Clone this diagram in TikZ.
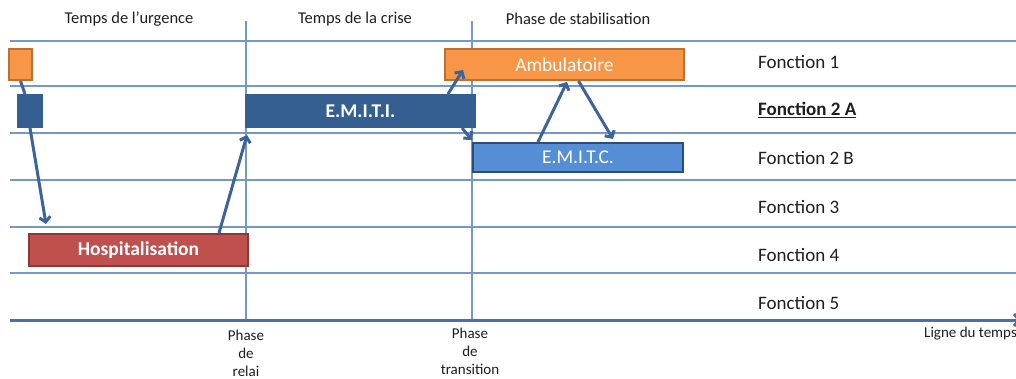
\documentclass[tikz,border=0pt]{standalone}
\usepackage{fontspec}
\setmainfont{Carlito}
\usetikzlibrary{arrows.meta,calc}

\definecolor{gridblue}{RGB}{116,152,199}
\definecolor{axisblue}{RGB}{74,112,166}
\definecolor{arrowblue}{RGB}{60,100,155}
\definecolor{orangefill}{RGB}{247,150,70}
\definecolor{orangeline}{RGB}{190,112,50}
\definecolor{navyfill}{RGB}{54,95,145}
\definecolor{navyline}{RGB}{44,77,117}
\definecolor{skyfill}{RGB}{85,142,213}
\definecolor{redfill}{RGB}{192,80,77}
\definecolor{redline}{RGB}{140,56,54}
\definecolor{labelgray}{RGB}{30,30,30}

\tikzset{
  gridline/.style={draw=gridblue, line width=2pt},
  phasebox/.style={rectangle, inner sep=0pt, line width=2pt, anchor=north west,
    text=white, font=\fontsize{19.5}{21}\selectfont},
  orangebox/.style={phasebox, fill=orangefill, draw=orangeline},
  navybox/.style={phasebox, fill=navyfill, draw=navyfill},
  skybox/.style={phasebox, fill=skyfill, draw=navyline},
  redbox/.style={phasebox, fill=redfill, draw=redline},
  flow/.style={draw=arrowblue, line width=3pt, -{Straight Barb[length=5pt,width=11pt]}},
  rowlabel/.style={anchor=west, inner sep=0pt, text=labelgray, font=\fontsize{19}{21}\selectfont},
  toplabel/.style={inner sep=0pt, text=labelgray, font=\fontsize{16.5}{18}\selectfont},
  milestone/.style={inner sep=0pt, text=labelgray, align=center, font=\fontsize{15}{18}\selectfont},
}

\begin{document}
\begin{tikzpicture}[x=1pt, y=-1pt]
\useasboundingbox (0,0) rectangle (1016,379);

% row separators
\foreach \yy in {41,86,133,180,227,273}
  \draw[gridline] (10,\yy) -- (1020,\yy);

% phase boundaries
\draw[gridline] (246,21) -- (246,320);
\draw[gridline] (472,21) -- (472,320);

% time axis
\draw[draw=axisblue, line width=3pt, -{Straight Barb[length=5pt,width=12pt]}] (10,320) -- (1021,320);

% period titles
\node[toplabel] (tu) at (129,19) {Temps de l’urgence};
\node[toplabel] (tc) at (355,19) {Temps de la crise};
\node[toplabel] (ps) at (578,19) {Phase de stabilisation};

% function rows
\node[rowlabel] (f1)  at (758,62)  {Fonction 1};
\node[rowlabel] (f2a) at (758,110) {\bfseries\underline{Fonction 2 A}};
\node[rowlabel] (f2b) at (758,158) {Fonction 2 B};
\node[rowlabel] (f3)  at (758,207) {Fonction 3};
\node[rowlabel] (f4)  at (758,255) {Fonction 4};
\node[rowlabel] (f5)  at (758,303) {Fonction 5};

% milestones under the axis
\node[milestone] (relai) at (246,353) {Phase\\de\\relai};
\node[milestone] (trans) at (470,351) {Phase\\de\\transition};
\node[milestone, anchor=west] (axl) at (924,334) {Ligne du temps};

% care settings
\node[orangebox, minimum width=23pt, minimum height=31pt] (o0) at (8,48) {};
\node[navybox, minimum width=24pt, minimum height=32pt] (b0) at (17,94) {};
\node[navybox, minimum width=229pt, minimum height=32pt, font=\fontsize{19.5}{21}\selectfont\bfseries] (emiti) at (245,94) {E.M.I.T.I.};
\node[orangebox, minimum width=239pt, minimum height=31pt] (amb) at (444,48) {Ambulatoire};
\node[skybox, minimum width=210pt, minimum height=29pt] (emitc) at (472,142) {E.M.I.T.C.};
\node[redbox, minimum width=219pt, minimum height=32pt, font=\fontsize{19.5}{21}\selectfont\bfseries] (hosp) at (28,233) {Hospitalisation};

% transitions
\draw[draw=arrowblue, line width=3pt] (o0.south) -- ($(b0.north)+(-5,0)$);
\draw[flow] (b0.south) -- ($(hosp.north west)+(18,-9)$);
\draw[flow] ($(hosp.north east)+(-30,0)$) -- ($(emiti.south west)+(2,7)$);
\draw[flow] ($(emiti.north east)+(-28,0)$) -- ($(amb.south west)+(19,-11)$);
\draw[flow] ($(emiti.south east)+(-14,0)$) -- ($(emitc.north west)+(0,-2)$);
\draw[flow] ($(emitc.north west)+(66,0)$) -- ($(amb.south west)+(123,1)$);
\draw[flow] ($(amb.south)+(14,0)$) -- ($(emitc.north west)+(141,-3)$);
\end{tikzpicture}
\end{document}
